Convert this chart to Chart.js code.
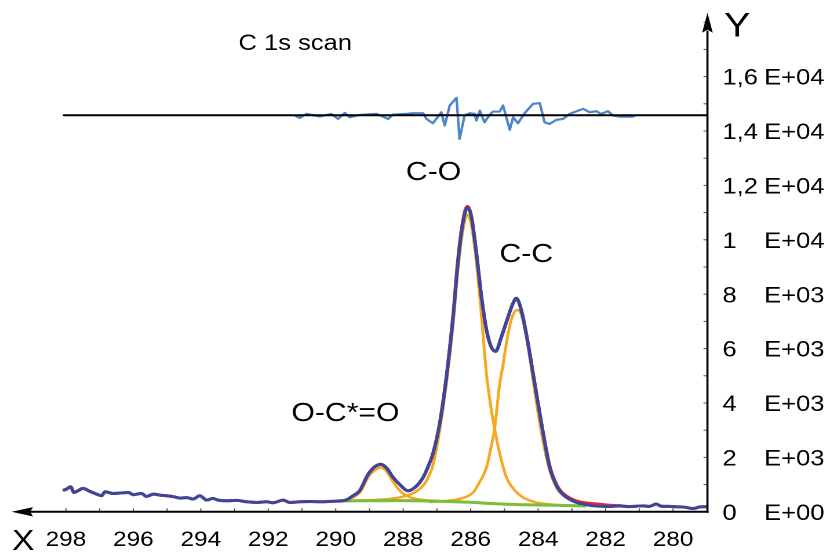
<!DOCTYPE html>
<html>
<head>
<meta charset="utf-8">
<script src="https://cdn.jsdelivr.net/npm/chart.js@4.4.1/dist/chart.umd.min.js"></script>
<style>
  html, body { margin: 0; padding: 0; background: #fff; overflow: hidden; }
  #wrap { width: 716px; height: 554px; transform: scaleX(1.1592); transform-origin: 0 0; }
</style>
</head>
<body>
<div id="wrap"><canvas id="myChart" width="716" height="554"></canvas></div>
<script>
// binding energy (eV) of the measured spectrum
var specX = [298.05, 297.98, 297.86, 297.76, 297.64, 297.49, 297.29, 297.09, 296.94, 296.84,
             296.60, 296.40, 296.15, 296.00, 295.76, 295.61, 295.41, 295.20, 295.02, 294.82,
             294.62, 294.42, 294.23, 294.03, 293.83, 293.64, 293.49, 293.24, 292.95, 292.65,
             292.35, 292.05, 291.86, 291.56, 291.36, 291.07, 290.75, 290.47, 290.20, 289.98,
             289.70, 289.49, 289.29, 289.09, 289.00, 288.85, 288.67, 288.50, 288.30, 288.10,
             287.86, 287.65, 287.41, 287.25, 287.12, 286.92, 286.72, 286.52, 286.38, 286.23,
             286.10, 285.98, 285.83, 285.68, 285.53, 285.39, 285.26, 285.09, 284.89, 284.75,
             284.65, 284.50, 284.30, 284.10, 283.90, 283.66, 283.50, 283.35, 283.16, 283.00,
             282.87, 282.60, 282.38, 282.10, 281.88, 281.60, 281.30, 281.10, 280.90, 280.70,
             280.50, 280.35, 280.10, 279.90, 279.65, 279.41, 279.20, 279.00];
// envelope (blue)
var envelopeY = [800, 835, 920, 710, 775, 860, 750, 650, 590, 738,
                 675, 690, 710, 627, 675, 565, 650, 610, 590, 560,
                 505, 520, 470, 590, 430, 490, 430, 405, 420, 369,
                 343, 369, 332, 430, 343, 369, 380, 369, 380, 390,
                 430, 590, 775, 1265, 1450, 1650, 1750, 1620, 1265, 1000,
                 775, 900, 1265, 1700, 2130, 3240, 4955, 7170, 9140, 10620,
                 11170, 10860, 9510, 7910, 6680, 6060, 5900, 6430, 7170, 7650,
                 7850, 7420, 6190, 4710, 3240, 1650, 1080, 750, 530, 420,
                 345, 270, 220, 200, 195, 215, 190, 205, 220, 200,
                 285, 205, 200, 185, 170, 120, 180, 185];
// raw counts (red, mostly under the envelope)
var rawY = [800, 835, 920, 710, 775, 860, 750, 650, 590, 738,
            675, 690, 710, 627, 675, 565, 650, 610, 590, 560,
            505, 520, 470, 590, 430, 490, 430, 405, 420, 369,
            343, 369, 332, 430, 343, 369, 380, 369, 380, 390,
            430, 590, 775, 1265, 1450, 1650, 1750, 1620, 1265, 1000,
            775, 900, 1265, 1700, 2130, 3240, 4955, 7250, 9250, 10700,
            11230, 10860, 9510, 7910, 6680, 6060, 5900, 6430, 7170, 7650,
            7850, 7420, 6190, 4710, 3240, 1700, 1120, 790, 580, 470,
            400, 330, 300, 270, 240, 225, 190, 205, 220, 200,
            285, 205, 200, 185, 170, 120, 180, 185];

// fitted components
var coX = [289.60, 289.00, 288.50, 288.00, 287.60, 287.31, 287.10, 286.92, 286.72, 286.52,
           286.38, 286.23, 286.10, 285.98, 285.83, 285.68, 285.53, 285.39, 285.29, 285.15,
           284.94, 284.70, 284.45, 284.10, 283.75, 283.30, 282.80];
var coY = [410, 430, 460, 560, 760, 1140, 1800, 2990, 4700, 6900,
           8850, 10350, 10920, 10550, 9150, 7200, 5050, 3760, 3050, 2200,
           1265, 800, 530, 360, 285, 240, 215];
var ccX = [287.20, 286.52, 286.20, 285.93, 285.73, 285.53, 285.40, 285.29, 285.14, 285.04,
           284.94, 284.80, 284.62, 284.50, 284.35, 284.15, 283.95, 283.71, 283.46, 283.20,
           283.00, 282.70, 282.40];
var ccY = [360, 430, 520, 710, 1100, 1635, 2350, 3050, 4700, 5400,
           6200, 7050, 7420, 7250, 6430, 4830, 3240, 1760, 900, 560,
           420, 300, 240];
var ocoX = [290.00, 289.60, 289.29, 289.00, 288.85, 288.67, 288.50, 288.30, 288.10, 287.85, 287.60, 287.30, 287.00];
var ocoY = [400, 480, 710, 1350, 1520, 1635, 1500, 1100, 775, 560, 470, 420, 400];

// background (green)
var bgX = [290.00, 289.00, 288.00, 287.00, 286.50, 286.00, 285.50, 285.00, 284.50, 284.00, 283.50, 283.00, 282.60];
var bgY = [400, 405, 410, 390, 370, 350, 310, 280, 260, 250, 240, 225, 215];

// residual (light blue) and its zero line
var resX = [291.21, 291.07, 290.87, 290.47, 290.13, 289.93, 289.73, 289.59, 289.29, 288.79,
            288.45, 288.30, 287.90, 287.71, 287.41, 287.31, 287.12, 286.87, 286.77, 286.62,
            286.42, 286.33, 286.18, 286.03, 285.88, 285.83, 285.73, 285.59, 285.44, 285.34,
            285.14, 285.04, 284.84, 284.74, 284.60, 284.40, 284.15, 283.95, 283.81, 283.66,
            283.46, 283.26, 283.07, 282.67, 282.47, 282.28, 282.13, 281.93, 281.78, 281.58,
            281.19, 281.14];
var resY = [14570, 14480, 14630, 14530, 14630, 14445, 14665, 14505, 14590, 14630,
            14445, 14605, 14630, 14655, 14655, 14445, 14285, 14690, 14200, 14940,
            15220, 13710, 14570, 14655, 14630, 14385, 14750, 14320, 14590, 14715,
            14715, 14940, 14040, 14505, 14285, 14655, 15000, 15025, 14320, 14260,
            14410, 14445, 14630, 14815, 14690, 14730, 14630, 14730, 14570, 14530,
            14530, 14560];
var resBaseX = [298.06, 278.98];
var resBaseY = [14580, 14580];

// axes
var xTickValues = [280, 282, 284, 286, 288, 290, 292, 294, 296, 298];
var xMinorTicks = [280, 281, 282, 283, 284, 285, 286, 287, 288, 289, 290, 291, 292, 293, 294, 295, 296, 297, 298];
var yTickValues = [0, 2000, 4000, 6000, 8000, 10000, 12000, 14000, 16000];
var yTickMantissa = ['0', '2', '4', '6', '8', '1', '1,2', '1,4', '1,6'];
var yTickExponent = ['E+00', 'E+03', 'E+03', 'E+03', 'E+03', 'E+04', 'E+04', 'E+04', 'E+04'];
var yMinorTicks = [1000, 2000, 3000, 4000, 5000, 6000, 7000, 8000, 9000, 10000, 11000, 12000, 13000, 14000, 15000, 16000, 17000, 18000];

var fontFamily = "'Liberation Sans', Arial, Helvetica, sans-serif";

function pts(xs, ys) {
  var out = [];
  for (var i = 0; i < xs.length; i++) out.push({x: xs[i], y: ys[i]});
  return out;
}

var axesPlugin = {
  id: 'axesPlugin',
  afterDraw: function(chart) {
    var ctx = chart.ctx;
    var xs = chart.scales.x, ys = chart.scales.y;
    var area = chart.chartArea;
    var x0 = area.right, y0 = ys.getPixelForValue(0), top = area.top;
    ctx.save();

    ctx.strokeStyle = '#555';
    ctx.lineWidth = 1;
    xMinorTicks.forEach(function(v) {
      var px = xs.getPixelForValue(v);
      ctx.beginPath(); ctx.moveTo(px, y0); ctx.lineTo(px, y0 - 3.5); ctx.stroke();
    });
    yMinorTicks.forEach(function(v) {
      var py = ys.getPixelForValue(v);
      ctx.beginPath(); ctx.moveTo(x0, py); ctx.lineTo(x0 - 3.5, py); ctx.stroke();
    });

    ctx.strokeStyle = '#000';
    ctx.fillStyle = '#000';
    ctx.lineWidth = 2;
    ctx.beginPath(); ctx.moveTo(x0 + 1, y0); ctx.lineTo(area.left + 16, y0); ctx.stroke();
    ctx.lineWidth = 1.8;
    ctx.beginPath(); ctx.moveTo(x0, y0 + 1); ctx.lineTo(x0, top + 18); ctx.stroke();

    ctx.beginPath();
    ctx.moveTo(area.left, y0); ctx.lineTo(area.left + 18.5, y0 - 4.7); ctx.lineTo(area.left + 16, y0); ctx.lineTo(area.left + 18.5, y0 + 4.7);
    ctx.closePath(); ctx.fill();
    ctx.beginPath();
    ctx.moveTo(x0, top); ctx.lineTo(x0 - 4.6, top + 20); ctx.lineTo(x0, top + 17); ctx.lineTo(x0 + 4.6, top + 20);
    ctx.closePath(); ctx.fill();

    // y tick labels: mantissa and exponent in two columns
    ctx.font = '22px ' + fontFamily;
    ctx.textBaseline = 'middle';
    for (var i = 0; i < yTickValues.length; i++) {
      var py = ys.getPixelForValue(yTickValues[i]) + 2;
      ctx.textAlign = 'left';
      ctx.fillText(yTickMantissa[i], 623.3, py);
      ctx.textAlign = 'right';
      ctx.fillText(yTickExponent[i], 711.2, py);
    }

    ctx.textAlign = 'center';
    ctx.font = '22px ' + fontFamily;
    ctx.fillText('C 1s scan', 254.7, 44);
    ctx.font = '26px ' + fontFamily;
    ctx.fillText('C-O', 374, 173);
    ctx.fillText('C-C', 454, 255);
    ctx.fillText('O-C*=O', 298, 414);
    ctx.font = '34px ' + fontFamily;
    ctx.fillText('Y', 636, 27);
    ctx.textBaseline = 'alphabetic';
    ctx.font = '29px ' + fontFamily;
    ctx.fillText('X', 20, 550);
    ctx.restore();
  }
};

var lineStyle = {pointRadius: 0, fill: false, borderJoinStyle: 'round', borderCapStyle: 'round'};

function serie(label, data, color, width, smooth) {
  var d = Object.assign({label: label, data: data, borderColor: color, borderWidth: width}, lineStyle);
  if (smooth) d.cubicInterpolationMode = 'monotone';
  return d;
}

var chart = new Chart(document.getElementById('myChart').getContext('2d'), {
  type: 'line',
  data: {
    datasets: [
      serie('Residual zero', pts(resBaseX, resBaseY), '#000000', 2, false),
      serie('Residual', pts(resX, resY), '#4a86c8', 2.2, false),
      serie('Envelope', pts(specX, envelopeY), '#3c479c', 3, true),
      serie('Raw', pts(specX, rawY), '#e5282e', 3, true),
      serie('Background', pts(bgX, bgY), '#7cbc3a', 3, true),
      serie('C-O', pts(coX, coY), '#f7a823', 2.5, true),
      serie('C-C', pts(ccX, ccY), '#f7a823', 2.5, true),
      serie('O-C*=O', pts(ocoX, ocoY), '#f7a823', 2.5, true)
    ]
  },
  options: {
    responsive: false,
    devicePixelRatio: 2,
    animation: false,
    layout: {padding: {left: 10, top: 12.7, right: 0, bottom: 0}},
    plugins: {legend: {display: false}, tooltip: {enabled: false}},
    scales: {
      x: {
        type: 'linear',
        reverse: true,
        min: 278.98,
        max: 299.61,
        afterBuildTicks: function(scale) {
          scale.ticks = xTickValues.map(function(v) { return {value: v}; });
        },
        afterFit: function(scale) { scale.height = 42.2; },
        ticks: {
          autoSkip: false,
          maxRotation: 0,
          padding: 16,
          color: '#000',
          font: {family: fontFamily, size: 21},
          callback: function(v) { return String(v); }
        },
        grid: {display: false, drawTicks: false},
        border: {display: false}
      },
      y: {
        type: 'linear',
        position: 'right',
        min: 0,
        max: 18350,
        afterFit: function(scale) { scale.width = 105.7; },
        ticks: {display: false},
        grid: {display: false, drawTicks: false},
        border: {display: false}
      }
    }
  },
  plugins: [axesPlugin]
});
</script>
</body>
</html>
